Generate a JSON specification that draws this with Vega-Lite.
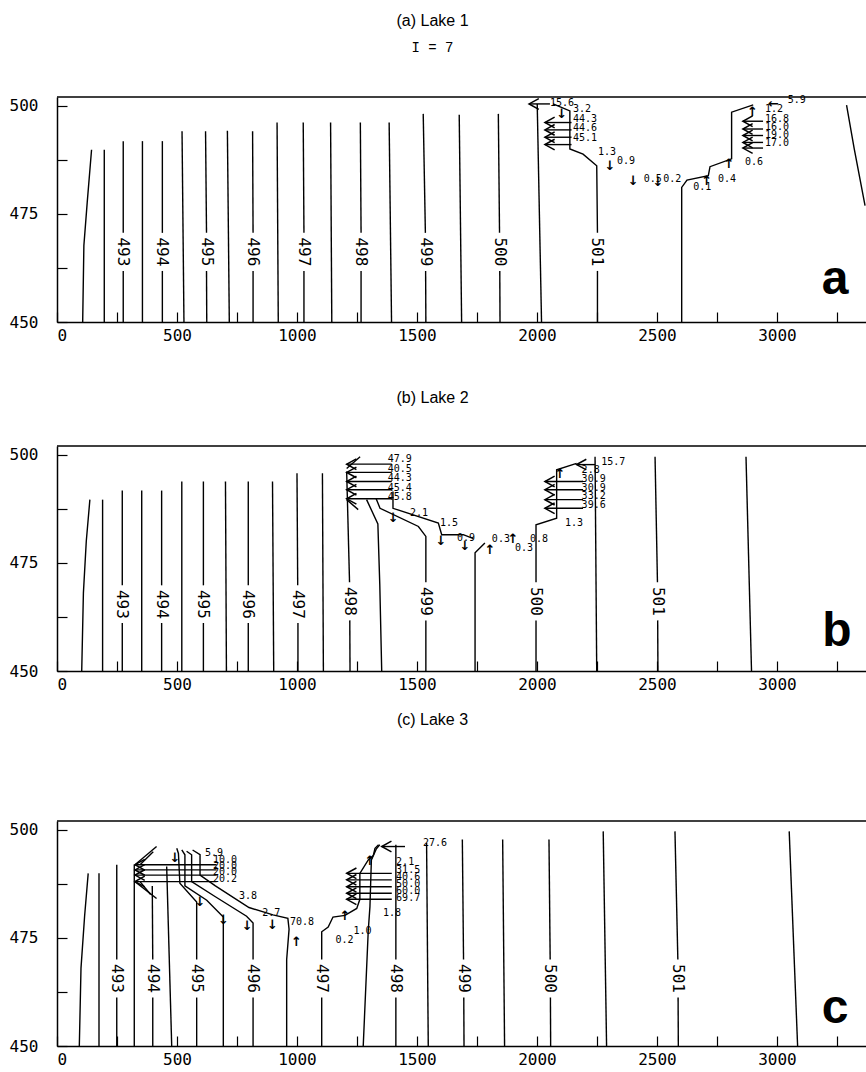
{
"$schema": "https://vega.github.io/schema/vega-lite/v6.json",
"padding": {"left": 9, "top": 13, "right": 0, "bottom": 0},
"spacing": 47,
"config": {
  "view": {"stroke": null},
  "axis": {"domainColor": "black", "domainWidth": 1.5, "tickColor": "black", "tickWidth": 1.2, "tickSize": -10, "labelFont": "DejaVu Sans Mono", "labelFontSize": 16, "labelColor": "black", "grid": false},
  "title": {"font": "Liberation Sans", "fontSize": 16, "fontWeight": "normal", "color": "black", "anchor": "middle", "dx": -29, "subtitleFont": "Liberation Mono", "subtitleFontSize": 14, "subtitleColor": "black", "subtitlePadding": 12}
},
"datasets": {
  "frame": [{"p":"a","x":0,"x2":3371,"y":502},{"p":"b","x":0,"x2":3371,"y":502},{"p":"c","x":0,"x2":3371,"y":502}],
  "lines": [
    {"p":"a","id":"a1","x":107,"y":450},{"p":"a","id":"a1","x":112,"y":467.7},{"p":"a","id":"a1","x":126,"y":477.7},{"p":"a","id":"a1","x":144,"y":489.8},
    {"p":"a","id":"a2","x":197,"y":450},{"p":"a","id":"a2","x":197,"y":489.8},
    {"p":"a","id":"a3l","x":276,"y":450},{"p":"a","id":"a3l","x":276,"y":461.8},{"p":"a","id":"a3u","x":276,"y":470.6},{"p":"a","id":"a3u","x":276,"y":491.8},
    {"p":"a","id":"a4","x":356,"y":450},{"p":"a","id":"a4","x":356,"y":491.8},
    {"p":"a","id":"a5l","x":439,"y":450},{"p":"a","id":"a5l","x":439,"y":461.8},{"p":"a","id":"a5u","x":439,"y":470.6},{"p":"a","id":"a5u","x":439,"y":491.8},
    {"p":"a","id":"a6","x":529,"y":450},{"p":"a","id":"a6","x":521,"y":494.1},
    {"p":"a","id":"a7l","x":624,"y":450},{"p":"a","id":"a7l","x":623,"y":461.8},{"p":"a","id":"a7u","x":623,"y":470.6},{"p":"a","id":"a7u","x":619,"y":494.1},
    {"p":"a","id":"a8","x":718,"y":450},{"p":"a","id":"a8","x":710,"y":494.2},
    {"p":"a","id":"a9l","x":817,"y":450},{"p":"a","id":"a9l","x":817,"y":461.8},{"p":"a","id":"a9u","x":817,"y":470.6},{"p":"a","id":"a9u","x":815,"y":494.1},
    {"p":"a","id":"a10","x":922,"y":450},{"p":"a","id":"a10","x":917,"y":496.1},
    {"p":"a","id":"a11l","x":1029,"y":450},{"p":"a","id":"a11l","x":1029,"y":461.8},{"p":"a","id":"a11u","x":1029,"y":470.6},{"p":"a","id":"a11u","x":1026,"y":496.1},
    {"p":"a","id":"a12","x":1145,"y":450},{"p":"a","id":"a12","x":1140,"y":496.1},
    {"p":"a","id":"a13l","x":1267,"y":450},{"p":"a","id":"a13l","x":1267,"y":461.8},{"p":"a","id":"a13u","x":1267,"y":470.6},{"p":"a","id":"a13u","x":1264,"y":496.1},
    {"p":"a","id":"a14","x":1394,"y":450},{"p":"a","id":"a14","x":1384,"y":496.1},
    {"p":"a","id":"a15l","x":1537,"y":450},{"p":"a","id":"a15l","x":1536,"y":461.8},{"p":"a","id":"a15u","x":1535,"y":470.6},{"p":"a","id":"a15u","x":1526,"y":498.1},
    {"p":"a","id":"a16","x":1686,"y":450},{"p":"a","id":"a16","x":1676,"y":497.9},
    {"p":"a","id":"a17l","x":1846,"y":450},{"p":"a","id":"a17l","x":1845,"y":461.8},{"p":"a","id":"a17u","x":1844,"y":470.6},{"p":"a","id":"a17u","x":1839,"y":498.1},
    {"p":"a","id":"a18","x":2019,"y":450},{"p":"a","id":"a18","x":2001,"y":500.4},
    {"p":"a","id":"a19l","x":2252,"y":450},{"p":"a","id":"a19l","x":2252,"y":461.8},
    {"p":"a","id":"a19u","x":2252,"y":470.6},{"p":"a","id":"a19u","x":2249,"y":486.1},{"p":"a","id":"a19u","x":2192,"y":488.8},{"p":"a","id":"a19u","x":2137,"y":490},{"p":"a","id":"a19u","x":2137,"y":498.8},{"p":"a","id":"a19u","x":2067,"y":500.4},
    {"p":"a","id":"a20","x":2603,"y":450},{"p":"a","id":"a20","x":2603,"y":481.1},{"p":"a","id":"a20","x":2625,"y":482.8},{"p":"a","id":"a20","x":2714,"y":483.8},{"p":"a","id":"a20","x":2721,"y":485.9},{"p":"a","id":"a20","x":2811,"y":487.7},{"p":"a","id":"a20","x":2811,"y":498.5},{"p":"a","id":"a20","x":2901,"y":500.2},
    {"p":"a","id":"a21","x":3290,"y":500.1},{"p":"a","id":"a21","x":3322,"y":490},{"p":"a","id":"a21","x":3367,"y":476.9},

    {"p":"b","id":"b1","x":103,"y":450},{"p":"b","id":"b1","x":110,"y":468},{"p":"b","id":"b1","x":122,"y":480},{"p":"b","id":"b1","x":137,"y":489.6},
    {"p":"b","id":"b2","x":190,"y":450},{"p":"b","id":"b2","x":190,"y":489.6},
    {"p":"b","id":"b3l","x":272,"y":450},{"p":"b","id":"b3l","x":272,"y":461.1},{"p":"b","id":"b3u","x":272,"y":469.8},{"p":"b","id":"b3u","x":272,"y":491.7},
    {"p":"b","id":"b4","x":353,"y":450},{"p":"b","id":"b4","x":353,"y":491.7},
    {"p":"b","id":"b5l","x":436,"y":450},{"p":"b","id":"b5l","x":436,"y":461.1},{"p":"b","id":"b5u","x":436,"y":469.8},{"p":"b","id":"b5u","x":436,"y":491.7},
    {"p":"b","id":"b6","x":520,"y":450},{"p":"b","id":"b6","x":520,"y":493.8},
    {"p":"b","id":"b7l","x":610,"y":450},{"p":"b","id":"b7l","x":610,"y":461.1},{"p":"b","id":"b7u","x":610,"y":469.8},{"p":"b","id":"b7u","x":610,"y":493.8},
    {"p":"b","id":"b8","x":706,"y":450},{"p":"b","id":"b8","x":702,"y":493.8},
    {"p":"b","id":"b9l","x":797,"y":450},{"p":"b","id":"b9l","x":797,"y":461.1},{"p":"b","id":"b9u","x":797,"y":469.8},{"p":"b","id":"b9u","x":797,"y":493.8},
    {"p":"b","id":"b10","x":903,"y":450},{"p":"b","id":"b10","x":898,"y":493.8},
    {"p":"b","id":"b11l","x":1004,"y":450},{"p":"b","id":"b11l","x":1004,"y":461.1},{"p":"b","id":"b11u","x":1003,"y":469.8},{"p":"b","id":"b11u","x":1000,"y":495.7},
    {"p":"b","id":"b12","x":1110,"y":450},{"p":"b","id":"b12","x":1106,"y":495.7},
    {"p":"b","id":"b13l","x":1221,"y":450},{"p":"b","id":"b13l","x":1220,"y":461.7},{"p":"b","id":"b13u","x":1219,"y":470.5},{"p":"b","id":"b13u","x":1207,"y":496.1},
    {"p":"b","id":"b14","x":1353,"y":450},{"p":"b","id":"b14","x":1345,"y":470},{"p":"b","id":"b14","x":1337,"y":484},{"p":"b","id":"b14","x":1290,"y":489.6},
    {"p":"b","id":"b15l","x":1537,"y":450},{"p":"b","id":"b15l","x":1537,"y":461.7},
    {"p":"b","id":"b15u","x":1537,"y":470.5},{"p":"b","id":"b15u","x":1537,"y":481.1},{"p":"b","id":"b15u","x":1506,"y":483.4},{"p":"b","id":"b15u","x":1346,"y":487.6},{"p":"b","id":"b15u","x":1330,"y":489.8},
    {"p":"b","id":"b16","x":1400,"y":491.5},{"p":"b","id":"b16","x":1400,"y":487.6},{"p":"b","id":"b16","x":1589,"y":484.2},{"p":"b","id":"b16","x":1603,"y":481.5},{"p":"b","id":"b16","x":1693,"y":481.5},{"p":"b","id":"b16","x":1735,"y":480.6},
    {"p":"b","id":"b17","x":1742,"y":450},{"p":"b","id":"b17","x":1742,"y":477.3},{"p":"b","id":"b17","x":1783,"y":479.6},
    {"p":"b","id":"b18l","x":1996,"y":450},{"p":"b","id":"b18l","x":1996,"y":461.7},
    {"p":"b","id":"b18u","x":1996,"y":470.5},{"p":"b","id":"b18u","x":1996,"y":483.8},{"p":"b","id":"b18u","x":2082,"y":485.3},{"p":"b","id":"b18u","x":2082,"y":496.5},{"p":"b","id":"b18u","x":2165,"y":498},
    {"p":"b","id":"b19","x":2249,"y":450},{"p":"b","id":"b19","x":2242,"y":499.5},
    {"p":"b","id":"b20l","x":2504,"y":450},{"p":"b","id":"b20l","x":2503,"y":461.7},{"p":"b","id":"b20u","x":2502,"y":470.5},{"p":"b","id":"b20u","x":2492,"y":499.5},
    {"p":"b","id":"b21","x":2894,"y":450},{"p":"b","id":"b21","x":2871,"y":499.5},
    {"p":"b","id":"b22","x":1263,"y":499.5},{"p":"b","id":"b22","x":1207,"y":496.8},
    {"p":"b","id":"b23","x":1207,"y":489.6},{"p":"b","id":"b23","x":1255,"y":487.3},

    {"p":"c","id":"c1","x":93,"y":450},{"p":"c","id":"c1","x":100,"y":468},{"p":"c","id":"c1","x":115,"y":480},{"p":"c","id":"c1","x":130,"y":489.9},
    {"p":"c","id":"c2","x":175,"y":450},{"p":"c","id":"c2","x":175,"y":489.9},
    {"p":"c","id":"c3l","x":249,"y":450},{"p":"c","id":"c3l","x":249,"y":461.2},{"p":"c","id":"c3u","x":249,"y":470},{"p":"c","id":"c3u","x":249,"y":491.9},
    {"p":"c","id":"c4","x":322,"y":450},{"p":"c","id":"c4","x":322,"y":491.9},
    {"p":"c","id":"c5l","x":399,"y":450},{"p":"c","id":"c5l","x":399,"y":461.2},{"p":"c","id":"c5u","x":399,"y":470},{"p":"c","id":"c5u","x":397,"y":487},
    {"p":"c","id":"c6","x":478,"y":450},{"p":"c","id":"c6","x":457,"y":491.5},
    {"p":"c","id":"c7l","x":582,"y":450},{"p":"c","id":"c7l","x":582,"y":461.2},
    {"p":"c","id":"c7u","x":582,"y":470},{"p":"c","id":"c7u","x":582,"y":483.3},{"p":"c","id":"c7u","x":512,"y":487.6},{"p":"c","id":"c7u","x":506,"y":494.5},{"p":"c","id":"c7u","x":499,"y":495.7},
    {"p":"c","id":"c8","x":693,"y":450},{"p":"c","id":"c8","x":693,"y":479.8},{"p":"c","id":"c8","x":624,"y":483.7},{"p":"c","id":"c8","x":533,"y":487},{"p":"c","id":"c8","x":533,"y":494.2},{"p":"c","id":"c8","x":520,"y":495.3},
    {"p":"c","id":"c9l","x":817,"y":450},{"p":"c","id":"c9l","x":817,"y":461.2},
    {"p":"c","id":"c9u","x":817,"y":470},{"p":"c","id":"c9u","x":817,"y":478.4},{"p":"c","id":"c9u","x":790,"y":480},{"p":"c","id":"c9u","x":660,"y":484.5},{"p":"c","id":"c9u","x":561,"y":488},{"p":"c","id":"c9u","x":561,"y":494.2},{"p":"c","id":"c9u","x":540,"y":495},
    {"p":"c","id":"c10","x":957,"y":450},{"p":"c","id":"c10","x":957,"y":470},{"p":"c","id":"c10","x":967,"y":477},{"p":"c","id":"c10","x":962,"y":479.5},{"p":"c","id":"c10","x":900,"y":480.3},{"p":"c","id":"c10","x":800,"y":482},{"p":"c","id":"c10","x":660,"y":487},{"p":"c","id":"c10","x":596,"y":489.5},{"p":"c","id":"c10","x":596,"y":494.2},{"p":"c","id":"c10","x":565,"y":495.3},
    {"p":"c","id":"c11l","x":1103,"y":450},{"p":"c","id":"c11l","x":1103,"y":461.2},
    {"p":"c","id":"c11u","x":1103,"y":470},{"p":"c","id":"c11u","x":1103,"y":476.4},{"p":"c","id":"c11u","x":1130,"y":477.5},{"p":"c","id":"c11u","x":1150,"y":479.8},{"p":"c","id":"c11u","x":1200,"y":480.2},{"p":"c","id":"c11u","x":1249,"y":481.8},{"p":"c","id":"c11u","x":1262,"y":483.9},{"p":"c","id":"c11u","x":1262,"y":489.9},{"p":"c","id":"c11u","x":1297,"y":493},{"p":"c","id":"c11u","x":1318,"y":494},{"p":"c","id":"c11u","x":1325,"y":495.7},{"p":"c","id":"c11u","x":1340,"y":496.5},
    {"p":"c","id":"c12","x":1276,"y":450},{"p":"c","id":"c12","x":1297,"y":476.7},{"p":"c","id":"c12","x":1304,"y":482.2},{"p":"c","id":"c12","x":1310,"y":493},{"p":"c","id":"c12","x":1330,"y":495.5},{"p":"c","id":"c12","x":1345,"y":496.5},
    {"p":"c","id":"c13l","x":1412,"y":450},{"p":"c","id":"c13l","x":1412,"y":461.2},{"p":"c","id":"c13u","x":1412,"y":470},{"p":"c","id":"c13u","x":1412,"y":496.5},
    {"p":"c","id":"c14","x":1547,"y":450},{"p":"c","id":"c14","x":1540,"y":497},
    {"p":"c","id":"c15l","x":1696,"y":450},{"p":"c","id":"c15l","x":1695,"y":461.2},{"p":"c","id":"c15u","x":1694,"y":470},{"p":"c","id":"c15u","x":1689,"y":497.7},
    {"p":"c","id":"c16","x":1865,"y":450},{"p":"c","id":"c16","x":1857,"y":497.7},
    {"p":"c","id":"c17l","x":2057,"y":450},{"p":"c","id":"c17l","x":2056,"y":461.2},{"p":"c","id":"c17u","x":2055,"y":470},{"p":"c","id":"c17u","x":2050,"y":497.7},
    {"p":"c","id":"c18","x":2290,"y":450},{"p":"c","id":"c18","x":2276,"y":499.6},
    {"p":"c","id":"c19l","x":2589,"y":450},{"p":"c","id":"c19l","x":2588,"y":461.2},{"p":"c","id":"c19u","x":2587,"y":470},{"p":"c","id":"c19u","x":2575,"y":499.6},
    {"p":"c","id":"c20","x":3086,"y":450},{"p":"c","id":"c20","x":3051,"y":499.6},
    {"p":"c","id":"c21","x":415,"y":496.1},{"p":"c","id":"c21","x":325,"y":491.9},
    {"p":"c","id":"c22","x":325,"y":488},{"p":"c","id":"c22","x":415,"y":484.1},
    {"p":"c","id":"c23","x":401,"y":494.9},{"p":"c","id":"c23","x":346,"y":491.9},
    {"p":"c","id":"c24","x":346,"y":488},{"p":"c","id":"c24","x":390,"y":485}
  ],
  "clabels": [
    {"p":"a","x":276,"y":466.2,"t":"493"},{"p":"a","x":439,"y":466.2,"t":"494"},{"p":"a","x":623,"y":466.2,"t":"495"},{"p":"a","x":817,"y":466.2,"t":"496"},{"p":"a","x":1028,"y":466.2,"t":"497"},{"p":"a","x":1266,"y":466.2,"t":"498"},{"p":"a","x":1536,"y":466.2,"t":"499"},{"p":"a","x":1845,"y":466.2,"t":"500"},{"p":"a","x":2252,"y":466.2,"t":"501"},
    {"p":"b","x":272,"y":465.4,"t":"493"},{"p":"b","x":436,"y":465.4,"t":"494"},{"p":"b","x":610,"y":465.4,"t":"495"},{"p":"b","x":797,"y":465.4,"t":"496"},{"p":"b","x":1003,"y":465.4,"t":"497"},{"p":"b","x":1220,"y":466.1,"t":"498"},{"p":"b","x":1537,"y":466.1,"t":"499"},{"p":"b","x":1996,"y":466.1,"t":"500"},{"p":"b","x":2503,"y":466.1,"t":"501"},
    {"p":"c","x":249,"y":465.6,"t":"493"},{"p":"c","x":399,"y":465.6,"t":"494"},{"p":"c","x":582,"y":465.6,"t":"495"},{"p":"c","x":817,"y":465.6,"t":"496"},{"p":"c","x":1103,"y":465.6,"t":"497"},{"p":"c","x":1412,"y":465.6,"t":"498"},{"p":"c","x":1695,"y":465.6,"t":"499"},{"p":"c","x":2056,"y":465.6,"t":"500"},{"p":"c","x":2588,"y":465.6,"t":"501"}
  ],
  "flows": [
    {"p":"a","x":1967,"x2":2054,"y":500.4},{"p":"a","x":2033,"x2":2144,"y":496.1},{"p":"a","x":2033,"x2":2144,"y":494.4},{"p":"a","x":2033,"x2":2144,"y":492.7},{"p":"a","x":2033,"x2":2144,"y":491.0},
    {"p":"a","x":2858,"x2":2942,"y":496.4},{"p":"a","x":2858,"x2":2942,"y":494.6},{"p":"a","x":2858,"x2":2942,"y":493.1},{"p":"a","x":2858,"x2":2942,"y":491.5},{"p":"a","x":2858,"x2":2942,"y":490.2},
    {"p":"b","x":1207,"x2":1395,"y":497.8},{"p":"b","x":1207,"x2":1395,"y":495.9},{"p":"b","x":1207,"x2":1395,"y":493.8},{"p":"b","x":1207,"x2":1395,"y":491.9},{"p":"b","x":1207,"x2":1395,"y":489.8},
    {"p":"b","x":2165,"x2":2242,"y":497.7},{"p":"b","x":2033,"x2":2192,"y":493.8},{"p":"b","x":2033,"x2":2192,"y":491.9},{"p":"b","x":2033,"x2":2192,"y":489.6},{"p":"b","x":2033,"x2":2192,"y":487.6},
    {"p":"c","x":325,"x2":665,"y":491.9},{"p":"c","x":325,"x2":665,"y":490.7},{"p":"c","x":325,"x2":665,"y":489.5},{"p":"c","x":325,"x2":665,"y":488.0},
    {"p":"c","x":1207,"x2":1395,"y":489.9},{"p":"c","x":1207,"x2":1395,"y":488.4},{"p":"c","x":1207,"x2":1395,"y":486.8},{"p":"c","x":1207,"x2":1395,"y":485.3},{"p":"c","x":1207,"x2":1395,"y":483.9},{"p":"c","x":1353,"x2":1450,"y":496.1}
  ],
  "values": [
    {"p":"a","x":2054,"y":500.7,"t":"15.6"},{"p":"a","x":2150,"y":499.3,"t":"3.2"},{"p":"a","x":2150,"y":497.0,"t":"44.3"},{"p":"a","x":2150,"y":494.8,"t":"44.6"},{"p":"a","x":2150,"y":492.6,"t":"45.1"},
    {"p":"a","x":2254,"y":489.2,"t":"1.3"},{"p":"a","x":2333,"y":487.1,"t":"0.9"},{"p":"a","x":2445,"y":483.1,"t":"0.5"},{"p":"a","x":2526,"y":483.1,"t":"0.2"},{"p":"a","x":2651,"y":481.1,"t":"0.1"},{"p":"a","x":2754,"y":483.1,"t":"0.4"},{"p":"a","x":2867,"y":486.9,"t":"0.6"},
    {"p":"a","x":3045,"y":501.2,"t":"5.9"},{"p":"a","x":2950,"y":499.3,"t":"1.2"},{"p":"a","x":2950,"y":497.0,"t":"16.8"},{"p":"a","x":2950,"y":495.1,"t":"16.0"},{"p":"a","x":2950,"y":493.2,"t":"19.0"},{"p":"a","x":2950,"y":491.3,"t":"17.0"},
    {"p":"b","x":1378,"y":498.9,"t":"47.9"},{"p":"b","x":1378,"y":496.7,"t":"40.5"},{"p":"b","x":1378,"y":494.5,"t":"44.3"},{"p":"b","x":1378,"y":492.3,"t":"45.4"},{"p":"b","x":1378,"y":490.1,"t":"45.8"},
    {"p":"b","x":1471,"y":486.5,"t":"2.1"},{"p":"b","x":1596,"y":484.3,"t":"1.5"},{"p":"b","x":1667,"y":480.7,"t":"0.9"},{"p":"b","x":1812,"y":480.4,"t":"0.3"},{"p":"b","x":1908,"y":478.4,"t":"0.3"},{"p":"b","x":1971,"y":480.4,"t":"0.8"},{"p":"b","x":2117,"y":484.2,"t":"1.3"},{"p":"b","x":2268,"y":498.4,"t":"15.7"},
    {"p":"b","x":2186,"y":496.4,"t":"2.8"},{"p":"b","x":2186,"y":494.4,"t":"30.9"},{"p":"b","x":2186,"y":492.4,"t":"30.9"},{"p":"b","x":2186,"y":490.4,"t":"33.2"},{"p":"b","x":2186,"y":488.4,"t":"39.6"},
    {"p":"c","x":617,"y":494.6,"t":"5.9"},{"p":"c","x":650,"y":493,"t":"10.0"},{"p":"c","x":650,"y":491.5,"t":"20.0"},{"p":"c","x":650,"y":490.1,"t":"20.0"},{"p":"c","x":650,"y":488.6,"t":"20.2"},
    {"p":"c","x":758,"y":484.6,"t":"3.8"},{"p":"c","x":855,"y":480.7,"t":"2.7"},{"p":"c","x":971,"y":478.7,"t":"70.8"},{"p":"c","x":1160,"y":474.4,"t":"0.2"},{"p":"c","x":1235,"y":476.6,"t":"1.0"},{"p":"c","x":1358,"y":480.7,"t":"1.8"},{"p":"c","x":1525,"y":496.9,"t":"27.6"},
    {"p":"c","x":1413,"y":492.6,"t":"2.1"},{"p":"c","x":1413,"y":490.6,"t":"31.5"},{"p":"c","x":1413,"y":489.0,"t":"40.6"},{"p":"c","x":1413,"y":487.4,"t":"50.0"},{"p":"c","x":1413,"y":485.8,"t":"60.0"},{"p":"c","x":1413,"y":484.2,"t":"69.7"}
  ],
  "glyphs": [
    {"p":"a","x":2103,"y":498,"g":"↓"},{"p":"a","x":2304,"y":486.1,"g":"↓"},{"p":"a","x":2401,"y":482.6,"g":"↓"},{"p":"a","x":2504,"y":482.3,"g":"↓"},{"p":"a","x":2707,"y":482.5,"g":"↑"},{"p":"a","x":2800,"y":486.6,"g":"↑"},{"p":"a","x":2898,"y":498.6,"g":"↑"},{"p":"a","x":2985,"y":500.3,"g":"←"},
    {"p":"b","x":1401,"y":485.3,"g":"↓"},{"p":"b","x":1600,"y":480,"g":"↓"},{"p":"b","x":1700,"y":479,"g":"↓"},{"p":"b","x":1804,"y":478,"g":"↑"},{"p":"b","x":1900,"y":480.5,"g":"↑"},{"p":"b","x":2096,"y":495.6,"g":"↑"},
    {"p":"c","x":492,"y":493.5,"g":"↓"},{"p":"c","x":596,"y":483.2,"g":"↓"},{"p":"c","x":694,"y":479.2,"g":"↓"},{"p":"c","x":793,"y":477.7,"g":"↓"},{"p":"c","x":898,"y":477.9,"g":"↓"},{"p":"c","x":998,"y":474,"g":"↑"},{"p":"c","x":1200,"y":480,"g":"↑"},{"p":"c","x":1304,"y":492.8,"g":"↑"}
  ],
  "letters": [{"p":"a","x":3242,"y":456.5,"t":"a"},{"p":"b","x":3250,"y":455.8,"t":"b"},{"p":"c","x":3242,"y":455.4,"t":"c"}]
},
"vconcat": [
  {
    "title": {"text": "(a) Lake 1", "subtitle": "I = 7", "offset": 40},
    "width": 809, "height": 225,
    "encoding": {
      "x": {"field": "x", "type": "quantitative", "scale": {"domain": [0, 3371], "nice": false, "zero": false}, "axis": {"values": [0,250,500,750,1000,1250,1500,1750,2000,2250,2500,2750,3000,3250], "format": "d", "labelExpr": "datum.value % 500 === 0 ? datum.label : ''", "labelPadding": 15, "title": null}},
      "y": {"field": "y", "type": "quantitative", "scale": {"domain": [450, 502], "nice": false, "zero": false}, "axis": {"values": [450,462.5,475,487.5,500], "labelExpr": "datum.value % 25 === 0 ? datum.label : ''", "labelPadding": 29, "labelFlush": false, "title": null}}
    },
    "layer": [
      {"data": {"name": "frame"}, "transform": [{"filter": "datum.p === 'a'"}], "mark": {"type": "rule", "color": "black", "strokeWidth": 1.5}, "encoding": {"x2": {"field": "x2"}}},
      {"data": {"name": "lines"}, "transform": [{"filter": "datum.p === 'a'"}], "mark": {"type": "line", "color": "black", "strokeWidth": 1.4}, "encoding": {"detail": {"field": "id"}, "order": {"value": null}}},
      {"data": {"name": "flows"}, "transform": [{"filter": "datum.p === 'a'"}], "mark": {"type": "rule", "color": "black", "strokeWidth": 1.4}, "encoding": {"x2": {"field": "x2"}}},
      {"data": {"name": "flows"}, "transform": [{"filter": "datum.p === 'a'"}], "mark": {"type": "point", "shape": "M 1 -0.55 L 0 0 L 1 0.55", "filled": false, "stroke": "black", "strokeWidth": 1.5, "size": 380, "opacity": 1}},
      {"data": {"name": "clabels"}, "transform": [{"filter": "datum.p === 'a'"}], "mark": {"type": "text", "angle": 90, "font": "DejaVu Sans Mono", "fontSize": 16, "fill": "black", "align": "center", "baseline": "middle"}, "encoding": {"text": {"field": "t"}}},
      {"data": {"name": "values"}, "transform": [{"filter": "datum.p === 'a'"}], "mark": {"type": "text", "font": "DejaVu Sans Mono", "fontSize": 10, "fill": "black", "align": "left", "baseline": "middle"}, "encoding": {"text": {"field": "t"}}},
      {"data": {"name": "glyphs"}, "transform": [{"filter": "datum.p === 'a'"}], "mark": {"type": "text", "font": "DejaVu Sans", "fontSize": 13, "fontWeight": "bold", "fill": "black", "align": "center", "baseline": "middle"}, "encoding": {"text": {"field": "g"}}},
      {"data": {"name": "letters"}, "transform": [{"filter": "datum.p === 'a'"}], "mark": {"type": "text", "font": "Liberation Sans", "fontSize": 48, "fontWeight": "bold", "fill": "black", "align": "center", "baseline": "alphabetic"}, "encoding": {"text": {"field": "t"}}}
    ]
  },
  {
    "spacing": 20,
    "vconcat": [
      {
        "title": {"text": "(b) Lake 2", "offset": 39},
        "width": 809, "height": 225,
        "encoding": {
          "x": {"field": "x", "type": "quantitative", "scale": {"domain": [0, 3371], "nice": false, "zero": false}, "axis": {"values": [0,250,500,750,1000,1250,1500,1750,2000,2250,2500,2750,3000,3250], "format": "d", "labelExpr": "datum.value % 500 === 0 ? datum.label : ''", "labelPadding": 15, "title": null}},
          "y": {"field": "y", "type": "quantitative", "scale": {"domain": [450, 502], "nice": false, "zero": false}, "axis": {"values": [450,462.5,475,487.5,500], "labelExpr": "datum.value % 25 === 0 ? datum.label : ''", "labelPadding": 29, "labelFlush": false, "title": null}}
        },
        "layer": [
          {"data": {"name": "frame"}, "transform": [{"filter": "datum.p === 'b'"}], "mark": {"type": "rule", "color": "black", "strokeWidth": 1.5}, "encoding": {"x2": {"field": "x2"}}},
          {"data": {"name": "lines"}, "transform": [{"filter": "datum.p === 'b'"}], "mark": {"type": "line", "color": "black", "strokeWidth": 1.4}, "encoding": {"detail": {"field": "id"}, "order": {"value": null}}},
          {"data": {"name": "flows"}, "transform": [{"filter": "datum.p === 'b'"}], "mark": {"type": "rule", "color": "black", "strokeWidth": 1.4}, "encoding": {"x2": {"field": "x2"}}},
          {"data": {"name": "flows"}, "transform": [{"filter": "datum.p === 'b'"}], "mark": {"type": "point", "shape": "M 1 -0.55 L 0 0 L 1 0.55", "filled": false, "stroke": "black", "strokeWidth": 1.5, "size": 380, "opacity": 1}},
          {"data": {"name": "clabels"}, "transform": [{"filter": "datum.p === 'b'"}], "mark": {"type": "text", "angle": 90, "font": "DejaVu Sans Mono", "fontSize": 16, "fill": "black", "align": "center", "baseline": "middle"}, "encoding": {"text": {"field": "t"}}},
          {"data": {"name": "values"}, "transform": [{"filter": "datum.p === 'b'"}], "mark": {"type": "text", "font": "DejaVu Sans Mono", "fontSize": 10, "fill": "black", "align": "left", "baseline": "middle"}, "encoding": {"text": {"field": "t"}}},
          {"data": {"name": "glyphs"}, "transform": [{"filter": "datum.p === 'b'"}], "mark": {"type": "text", "font": "DejaVu Sans", "fontSize": 13, "fontWeight": "bold", "fill": "black", "align": "center", "baseline": "middle"}, "encoding": {"text": {"field": "g"}}},
          {"data": {"name": "letters"}, "transform": [{"filter": "datum.p === 'b'"}], "mark": {"type": "text", "font": "Liberation Sans", "fontSize": 48, "fontWeight": "bold", "fill": "black", "align": "center", "baseline": "alphabetic"}, "encoding": {"text": {"field": "t"}}}
        ]
      },
      {
        "title": {"text": "(c) Lake 3", "offset": 92},
        "width": 809, "height": 225,
        "encoding": {
          "x": {"field": "x", "type": "quantitative", "scale": {"domain": [0, 3371], "nice": false, "zero": false}, "axis": {"values": [0,250,500,750,1000,1250,1500,1750,2000,2250,2500,2750,3000,3250], "format": "d", "labelExpr": "datum.value % 500 === 0 ? datum.label : ''", "labelPadding": 15, "title": null}},
          "y": {"field": "y", "type": "quantitative", "scale": {"domain": [450, 502], "nice": false, "zero": false}, "axis": {"values": [450,462.5,475,487.5,500], "labelExpr": "datum.value % 25 === 0 ? datum.label : ''", "labelPadding": 29, "labelFlush": false, "title": null}}
        },
        "layer": [
          {"data": {"name": "frame"}, "transform": [{"filter": "datum.p === 'c'"}], "mark": {"type": "rule", "color": "black", "strokeWidth": 1.5}, "encoding": {"x2": {"field": "x2"}}},
          {"data": {"name": "lines"}, "transform": [{"filter": "datum.p === 'c'"}], "mark": {"type": "line", "color": "black", "strokeWidth": 1.4}, "encoding": {"detail": {"field": "id"}, "order": {"value": null}}},
          {"data": {"name": "flows"}, "transform": [{"filter": "datum.p === 'c'"}], "mark": {"type": "rule", "color": "black", "strokeWidth": 1.4}, "encoding": {"x2": {"field": "x2"}}},
          {"data": {"name": "flows"}, "transform": [{"filter": "datum.p === 'c'"}], "mark": {"type": "point", "shape": "M 1 -0.55 L 0 0 L 1 0.55", "filled": false, "stroke": "black", "strokeWidth": 1.5, "size": 380, "opacity": 1}},
          {"data": {"name": "clabels"}, "transform": [{"filter": "datum.p === 'c'"}], "mark": {"type": "text", "angle": 90, "font": "DejaVu Sans Mono", "fontSize": 16, "fill": "black", "align": "center", "baseline": "middle"}, "encoding": {"text": {"field": "t"}}},
          {"data": {"name": "values"}, "transform": [{"filter": "datum.p === 'c'"}], "mark": {"type": "text", "font": "DejaVu Sans Mono", "fontSize": 10, "fill": "black", "align": "left", "baseline": "middle"}, "encoding": {"text": {"field": "t"}}},
          {"data": {"name": "glyphs"}, "transform": [{"filter": "datum.p === 'c'"}], "mark": {"type": "text", "font": "DejaVu Sans", "fontSize": 13, "fontWeight": "bold", "fill": "black", "align": "center", "baseline": "middle"}, "encoding": {"text": {"field": "g"}}},
          {"data": {"name": "letters"}, "transform": [{"filter": "datum.p === 'c'"}], "mark": {"type": "text", "font": "Liberation Sans", "fontSize": 48, "fontWeight": "bold", "fill": "black", "align": "center", "baseline": "alphabetic"}, "encoding": {"text": {"field": "t"}}}
        ]
      }
    ]
  }
]
}
